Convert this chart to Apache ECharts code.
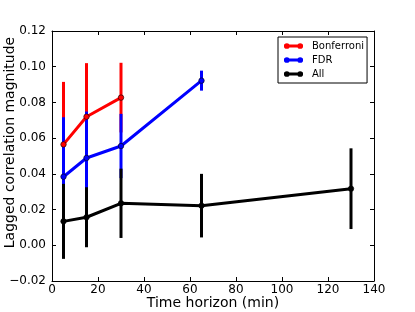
<!DOCTYPE html>
<html><head><meta charset="utf-8">
<script src="https://cdn.jsdelivr.net/npm/echarts@6/dist/echarts.min.js"></script>
<style>html,body{margin:0;padding:0;background:#fff}#c{width:415px;height:312px}</style>
</head><body><div id="c"></div>
<script>
const xBonf = [5, 15, 30];
const bonf = [0.0565, 0.072, 0.0827];
const bonfErr = [0.035, 0.030, 0.0195];
const xFdr = [5, 15, 30, 65];
const fdr = [0.0384, 0.0489, 0.0556, 0.0922];
const fdrErr = [0.0333, 0.026, 0.018, 0.0056];
const xAll = [5, 15, 30, 65, 130];
const all = [0.0134, 0.0157, 0.0235, 0.0222, 0.0317];
const allErr = [0.021, 0.0168, 0.0194, 0.0178, 0.0226];
const xTicks = [0, 20, 40, 60, 80, 100, 120, 140];
const yTicks = [-0.02, 0.00, 0.02, 0.04, 0.06, 0.08, 0.10, 0.12];

const FONT = 'DejaVu Sans';
function errSeries(xs, ys, es, color, z) {
  return {
    type: 'custom', silent: true, z: z,
    data: xs.map((x, i) => [x, ys[i] - es[i], ys[i] + es[i]]),
    encode: {x: 0, y: [1, 2]},
    renderItem: (params, api) => {
      const a = api.coord([api.value(0), api.value(1)]);
      const b = api.coord([api.value(0), api.value(2)]);
      return {type: 'line', shape: {x1: a[0], y1: a[1], x2: b[0], y2: b[1]},
        style: {stroke: color, lineWidth: 3}};
    }
  };
}
function lineSeries(name, xs, ys, color, z) {
  return {
    type: 'line', name: name, z: z,
    data: xs.map((x, i) => [x, ys[i]]),
    symbol: 'circle', symbolSize: 5.5, showSymbol: true,
    lineStyle: {color: color, width: 3},
    itemStyle: {color: color, borderColor: '#000', borderWidth: 0.6},
    emphasis: {disabled: true}, animation: false
  };
}
const icon = 'path://M0,4.5 L20,4.5 L20,7.5 L0,7.5 Z M6,6 A3,3 0 1 1 0,6 A3,3 0 1 1 6,6 Z M20,6 A3,3 0 1 1 14,6 A3,3 0 1 1 20,6 Z';
const fmt = v => {
  const s = (Math.round(v * 100) / 100).toFixed(2);
  return s.replace('-', '\u2212');
};
const axisCommon = {
  axisLine: {show: true, onZero: false, lineStyle: {color: '#000', width: 1}},
  axisTick: {show: true, inside: true, length: 4, lineStyle: {color: '#000'}},
  splitLine: {show: false}
};
const chart = echarts.init(document.getElementById('c'), null, {renderer: 'canvas'});
chart.setOption({
  animation: false,
  backgroundColor: '#fff',
  grid: {left: 52, right: 41, top: 31, bottom: 31, containLabel: false, outerBoundsMode: 'none'},
  xAxis: [
    Object.assign({type: 'value', min: xTicks[0], max: xTicks[xTicks.length - 1], interval: 20,
      name: 'Time horizon (min)', nameLocation: 'middle', nameGap: 15, nameMoveOverlap: false,
      nameTextStyle: {fontFamily: FONT, fontSize: 14, color: '#000'},
      axisLabel: {fontFamily: FONT, fontSize: 12, color: '#000', margin: 3}}, axisCommon),
    Object.assign({type: 'value', position: 'top', min: xTicks[0], max: xTicks[xTicks.length - 1], interval: 20,
      axisLabel: {show: false}}, axisCommon)
  ],
  yAxis: [
    Object.assign({type: 'value', min: yTicks[0], max: yTicks[yTicks.length - 1], interval: 0.02,
      name: 'Lagged correlation magnitude', nameLocation: 'middle', nameGap: 35, nameMoveOverlap: false,
      nameTextStyle: {fontFamily: FONT, fontSize: 14, color: '#000', padding: [0, 0, 0, 27]},
      axisLabel: {fontFamily: FONT, fontSize: 12, color: '#000', margin: 6, formatter: fmt}}, axisCommon),
    Object.assign({type: 'value', position: 'right', min: yTicks[0], max: yTicks[yTicks.length - 1], interval: 0.02,
      axisLabel: {show: false}}, axisCommon)
  ],
  legend: {
    data: [{name: 'Bonferroni', icon: icon}, {name: 'FDR', icon: icon}, {name: 'All', icon: icon}],
    orient: 'vertical', left: 278, top: 37,
    itemWidth: 19, itemHeight: 6, itemGap: 4,
    padding: [4, 3, 4, 6],
    borderColor: '#000', borderWidth: 1, backgroundColor: '#fff', borderRadius: 0,
    itemStyle: {borderWidth: 0},
    textStyle: {fontFamily: FONT, fontSize: 10, color: '#000', padding: [0, 0, 0, 4]},
    selectedMode: false
  },
  series: [
    errSeries(xBonf, bonf, bonfErr, '#ff0000', 1),
    errSeries(xFdr, fdr, fdrErr, '#0000ff', 2),
    errSeries(xAll, all, allErr, '#000000', 3),
    lineSeries('Bonferroni', xBonf, bonf, '#ff0000', 10),
    lineSeries('FDR', xFdr, fdr, '#0000ff', 11),
    lineSeries('All', xAll, all, '#000000', 12)
  ]
});
</script></body></html>
